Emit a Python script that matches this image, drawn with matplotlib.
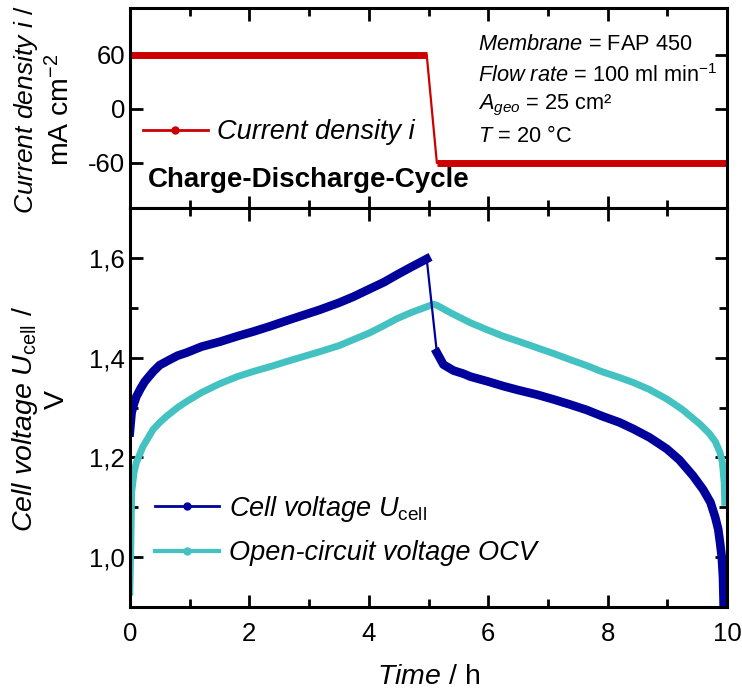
import numpy as np
import matplotlib.pyplot as plt
from matplotlib.lines import Line2D
from matplotlib.ticker import MultipleLocator, FuncFormatter

plt.rcParams['font.family'] = ['Liberation Sans', 'DejaVu Sans']
plt.rcParams['mathtext.fontset'] = 'custom'
plt.rcParams['mathtext.rm'] = 'Liberation Sans'
plt.rcParams['mathtext.it'] = 'Liberation Sans:italic'
plt.rcParams['mathtext.bf'] = 'Liberation Sans:bold'
plt.rcParams['axes.unicode_minus'] = False

# current density profile (h, mA cm-2)
t_cur = [0.0, 4.97, 5.14, 10.0]
i_cur = [60, 60, -60, -60]

# cell voltage, charge part (h, V)
t_chg = [0.0, 0.015, 0.03, 0.07, 0.11, 0.18, 0.25, 0.39, 0.5, 0.67, 0.8,
         0.95, 1.2, 1.51, 1.8, 2.06, 2.35, 2.62, 2.9, 3.18, 3.5, 3.74, 4.02,
         4.25, 4.47, 4.7, 4.97]
u_chg = [1.25, 1.27, 1.29, 1.308, 1.322, 1.338, 1.352, 1.372, 1.385, 1.396,
         1.404, 1.41, 1.422, 1.432, 1.443, 1.452, 1.463, 1.474, 1.485, 1.496,
         1.51, 1.522, 1.538, 1.551, 1.566, 1.581, 1.598]

# cell voltage, discharge part
t_dis = [5.14, 5.25, 5.42, 5.58, 5.7, 6.0, 6.25, 6.5, 6.81, 7.1, 7.37, 7.65,
         7.9, 8.2, 8.43, 8.7, 8.99, 9.2, 9.43, 9.6, 9.72, 9.8, 9.85, 9.88,
         9.91, 9.93, 9.94]
u_dis = [1.41, 1.386, 1.374, 1.368, 1.362, 1.352, 1.343, 1.335, 1.326, 1.316,
         1.306, 1.295, 1.283, 1.27, 1.257, 1.24, 1.217, 1.195, 1.163, 1.135,
         1.11, 1.08, 1.056, 1.03, 1.0, 0.96, 0.91]

# open-circuit voltage
t_ocv = [0.0, 0.015, 0.03, 0.07, 0.11, 0.22, 0.39, 0.5, 0.61, 0.8, 0.95,
         1.2, 1.51, 1.8, 2.06, 2.35, 2.62, 2.9, 3.18, 3.5, 3.74, 4.02, 4.25,
         4.47, 4.7, 4.97, 5.08, 5.14, 5.4, 5.7, 6.0, 6.25, 6.5, 6.81, 7.1,
         7.37, 7.65, 7.9, 8.2, 8.43, 8.7, 8.99, 9.25, 9.55, 9.7, 9.8, 9.88,
         9.92, 9.95, 9.96]
u_ocv = [0.93, 1.02, 1.13, 1.17, 1.19, 1.222, 1.256, 1.27, 1.282, 1.3, 1.312,
         1.33, 1.348, 1.362, 1.372, 1.382, 1.392, 1.402, 1.412, 1.424, 1.436,
         1.45, 1.464, 1.478, 1.49, 1.502, 1.507, 1.505, 1.488, 1.47, 1.455,
         1.443, 1.433, 1.42, 1.408, 1.396, 1.384, 1.372, 1.36, 1.35, 1.336,
         1.317, 1.296, 1.266, 1.248, 1.232, 1.21, 1.19, 1.15, 1.11]

red = '#CC0000'
navy = '#00009A'
teal = '#44C2C2'

fig = plt.figure(figsize=(7.42, 6.95), dpi=100)
ax1 = fig.add_axes([0.175, 0.7007, 0.805, 0.2878])
ax2 = fig.add_axes([0.175, 0.1266, 0.805, 0.5741])

for ax in (ax1, ax2):
    for s in ax.spines.values():
        s.set_linewidth(2.2)
    ax.set_xlim(0, 10)
    ax.xaxis.set_major_locator(MultipleLocator(2))
    ax.xaxis.set_minor_locator(MultipleLocator(1))
    ax.tick_params(which='both', direction='in', top=True, right=True,
                   width=2, labelsize=18.5)
    ax.tick_params(which='major', length=9)
    ax.tick_params(which='minor', length=5.5)

# top panel: current
ax1.plot(t_cur, i_cur, color=red, lw=1.6)
ax1.plot(t_cur[:2], i_cur[:2], color=red, lw=5, solid_capstyle='butt')
ax1.plot(t_cur[2:], i_cur[2:], color=red, lw=5, solid_capstyle='butt')
ax1.set_ylim(-110, 112)
ax1.set_yticks([-60, 0, 60])
ax1.tick_params(axis='y', which='minor', left=False, right=False)
ax1.tick_params(labelbottom=False)

h1 = Line2D([], [], color=red, lw=2, marker='o', ms=5)
ax1.legend([h1], ['Current density i'], loc='center left',
           bbox_to_anchor=(0.022, 0.38), frameon=False, borderpad=0,
           borderaxespad=0, handlelength=2.4, handletextpad=0.35,
           prop={'size': 19.5, 'style': 'italic'})
ax1.text(0.03, 0.14, 'Charge-Discharge-Cycle', transform=ax1.transAxes,
         fontsize=20, fontweight='bold', va='center', ha='left')

info = [r'$\mathit{Membrane}$ = FAP 450',
        r'$\mathit{Flow\ rate}$ = 100 ml min$^{-1}$',
        r'$A_{\mathit{geo}}$ = 25 cm²',
        r'$T$ = 20 °C']
for k, s in enumerate(info):
    ax1.text(0.583, 0.815 - k * 0.152, s, transform=ax1.transAxes,
             fontsize=15.7, va='center', ha='left')

ax1.text(-0.174, 0.49, r'$\mathit{Current\ density\ i}$ /',
         transform=ax1.transAxes, rotation=90, fontsize=19,
         ha='center', va='center')
ax1.text(-0.115, 0.49, r'mA cm$^{-2}$', transform=ax1.transAxes,
         rotation=90, fontsize=20.5, ha='center', va='center')

# bottom panel: voltages
ax2.plot(t_ocv, u_ocv, color=teal, lw=5, solid_joinstyle='round')
ax2.plot(t_chg + t_dis, u_chg + u_dis, color=navy, lw=1.6)
ax2.plot(t_chg, u_chg, color=navy, lw=6.2, solid_joinstyle='round')
ax2.plot(t_dis, u_dis, color=navy, lw=6.2, solid_joinstyle='round')
ax2.set_ylim(0.9, 1.7)
ax2.yaxis.set_major_locator(MultipleLocator(0.2))
ax2.yaxis.set_minor_locator(MultipleLocator(0.1))
ax2.yaxis.set_major_formatter(FuncFormatter(lambda v, p: f'{v:.1f}'.replace('.', ',')))
ax2.tick_params(axis='x', pad=11)

h2 = Line2D([], [], color=navy, lw=2, marker='o', ms=5)
h3 = Line2D([], [], color=teal, lw=3, marker='o', ms=5)
ax2.legend([h2, h3], [r'Cell voltage $U_{\mathrm{cell}}$',
                      'Open-circuit voltage OCV'],
           loc='center left', bbox_to_anchor=(0.042, 0.193), frameon=False,
           borderpad=0, borderaxespad=0, handlelength=2.35,
           handletextpad=0.37, labelspacing=0.6,
           prop={'size': 19.5, 'style': 'italic'})

ax2.text(-0.176, 0.47, r'$\mathit{Cell\ voltage\ U}_{\mathrm{cell}}$ /',
         transform=ax2.transAxes, rotation=90, fontsize=20.5,
         ha='center', va='center')
ax2.text(-0.122, 0.52, 'V', transform=ax2.transAxes, rotation=90,
         fontsize=20.5, ha='center', va='center')
ax2.set_xlabel(r'$\mathit{Time}$ / h', fontsize=20.5, labelpad=13)

fig.savefig('out.png', dpi=100)
